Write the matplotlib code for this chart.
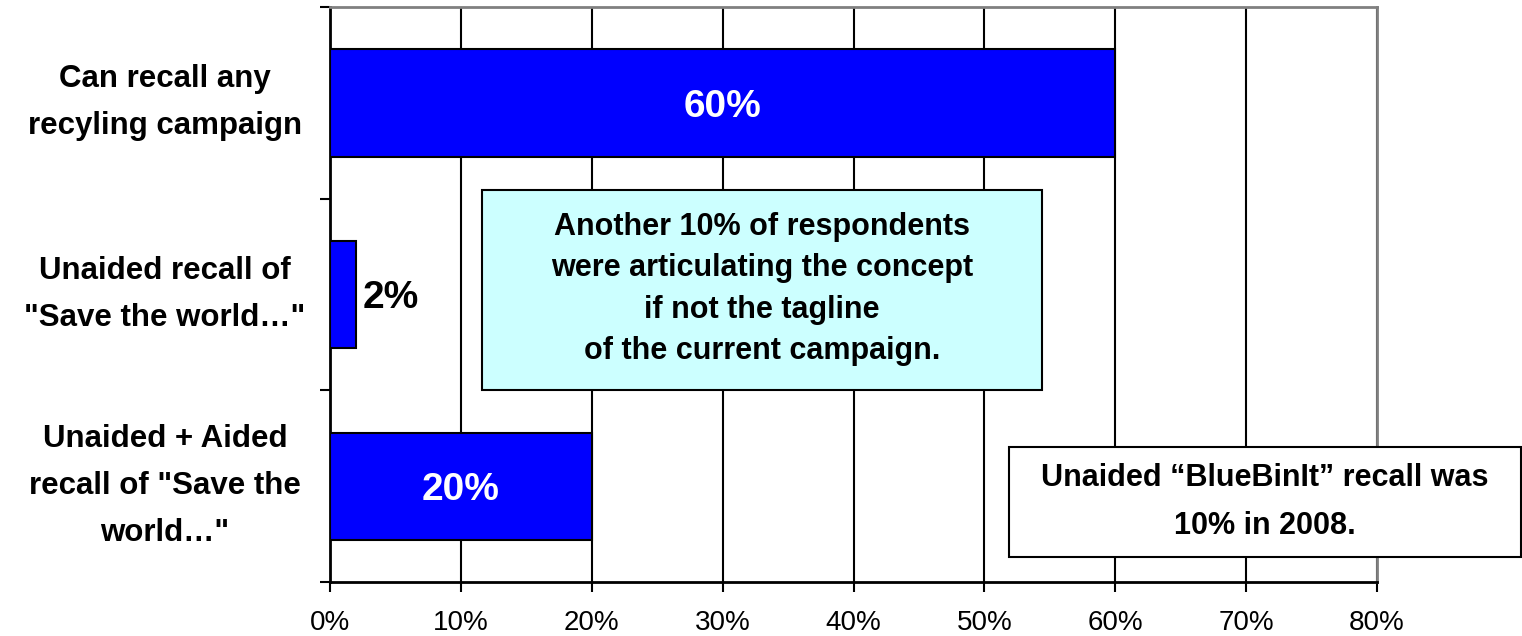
import matplotlib
matplotlib.use('Agg')
import matplotlib.pyplot as plt

categories = ['Can recall any\nrecyling campaign',
              'Unaided recall of\n"Save the world…"',
              'Unaided + Aided\nrecall of "Save the\nworld…"']
values = [60, 2, 20]
value_labels = ['60%', '2%', '20%']
x_ticks = [0, 10, 20, 30, 40, 50, 60, 70, 80]
note_1 = ('Another 10% of respondents\nwere articulating the concept\n'
          'if not the tagline\nof the current campaign.')
note_2 = 'Unaided \u201cBlueBinIt\u201d recall was\n10% in 2008.'

fam = ['Liberation Sans', 'Arial', 'DejaVu Sans']

fig = plt.figure(figsize=(15.22, 6.36), dpi=100)
ax = fig.add_axes([330 / 1522, 1 - 582 / 636, (1377 - 330) / 1522, (582 - 7) / 636])

ypos = list(range(len(values)))
ax.barh(ypos, values, height=0.56, color='#0000FF', edgecolor='black', linewidth=1.5, zorder=3)
ax.set_ylim(len(values) - 0.5, -0.5)
ax.set_xlim(0, 80)

# value labels
for y, v, lab in zip(ypos, values, value_labels):
    if v > 10:
        ax.text(v / 2, y + 0.02, lab, ha='center', va='center', color='white',
                fontsize=28, fontweight='bold', family=fam, zorder=4)
    else:
        ax.text(v + 0.5, y + 0.02, lab, ha='left', va='center', color='black',
                fontsize=28, fontweight='bold', family=fam, zorder=4)

ax.set_xticks(x_ticks)
ax.set_xticklabels([f'{t}%' for t in x_ticks], fontsize=20, family=fam)
ax.set_yticks([-0.5, 0.5, 1.5, 2.5])
ax.set_yticklabels([])
ax.tick_params(axis='x', direction='out', length=7, width=1.5, pad=13)
ax.tick_params(axis='y', direction='out', length=7, width=1.5)
ax.grid(axis='x', color='black', linewidth=1.5, zorder=1)
for s in ['left', 'bottom']:
    ax.spines[s].set_linewidth(2)
    ax.spines[s].set_color('black')
for s in ['top', 'right']:
    ax.spines[s].set_linewidth(2)
    ax.spines[s].set_color('#808080')

# category labels
for y, cat in zip(ypos, categories):
    yfig = ax.transData.transform((0, y))[1]
    fig.text(165 / 1522, yfig / 636, cat, ha='center', va='center', multialignment='center',
             fontsize=22.5, fontweight='bold', family=fam, linespacing=1.75)

# annotation boxes
b1 = plt.Rectangle((482 / 1522, 1 - 390 / 636), (1042 - 482) / 1522, (390 - 190) / 636,
                   transform=fig.transFigure, facecolor='#CCFFFF', edgecolor='black',
                   linewidth=1.5, zorder=5)
fig.patches.append(b1)
fig.text((482 + 1042) / 2 / 1522, 1 - 289 / 636, note_1, ha='center', va='center',
         fontsize=22, fontweight='bold', family=fam, linespacing=1.5, zorder=6)

b2 = plt.Rectangle((1009 / 1522, 1 - 557 / 636), (1521 - 1009) / 1522, (557 - 447) / 636,
                   transform=fig.transFigure, facecolor='white', edgecolor='black',
                   linewidth=1.5, zorder=5)
fig.patches.append(b2)
fig.text((1009 + 1521) / 2 / 1522, 1 - 502 / 636, note_2, ha='center', va='center',
         fontsize=22, fontweight='bold', family=fam, linespacing=1.8, zorder=6)

fig.savefig('out.png', dpi=100)
